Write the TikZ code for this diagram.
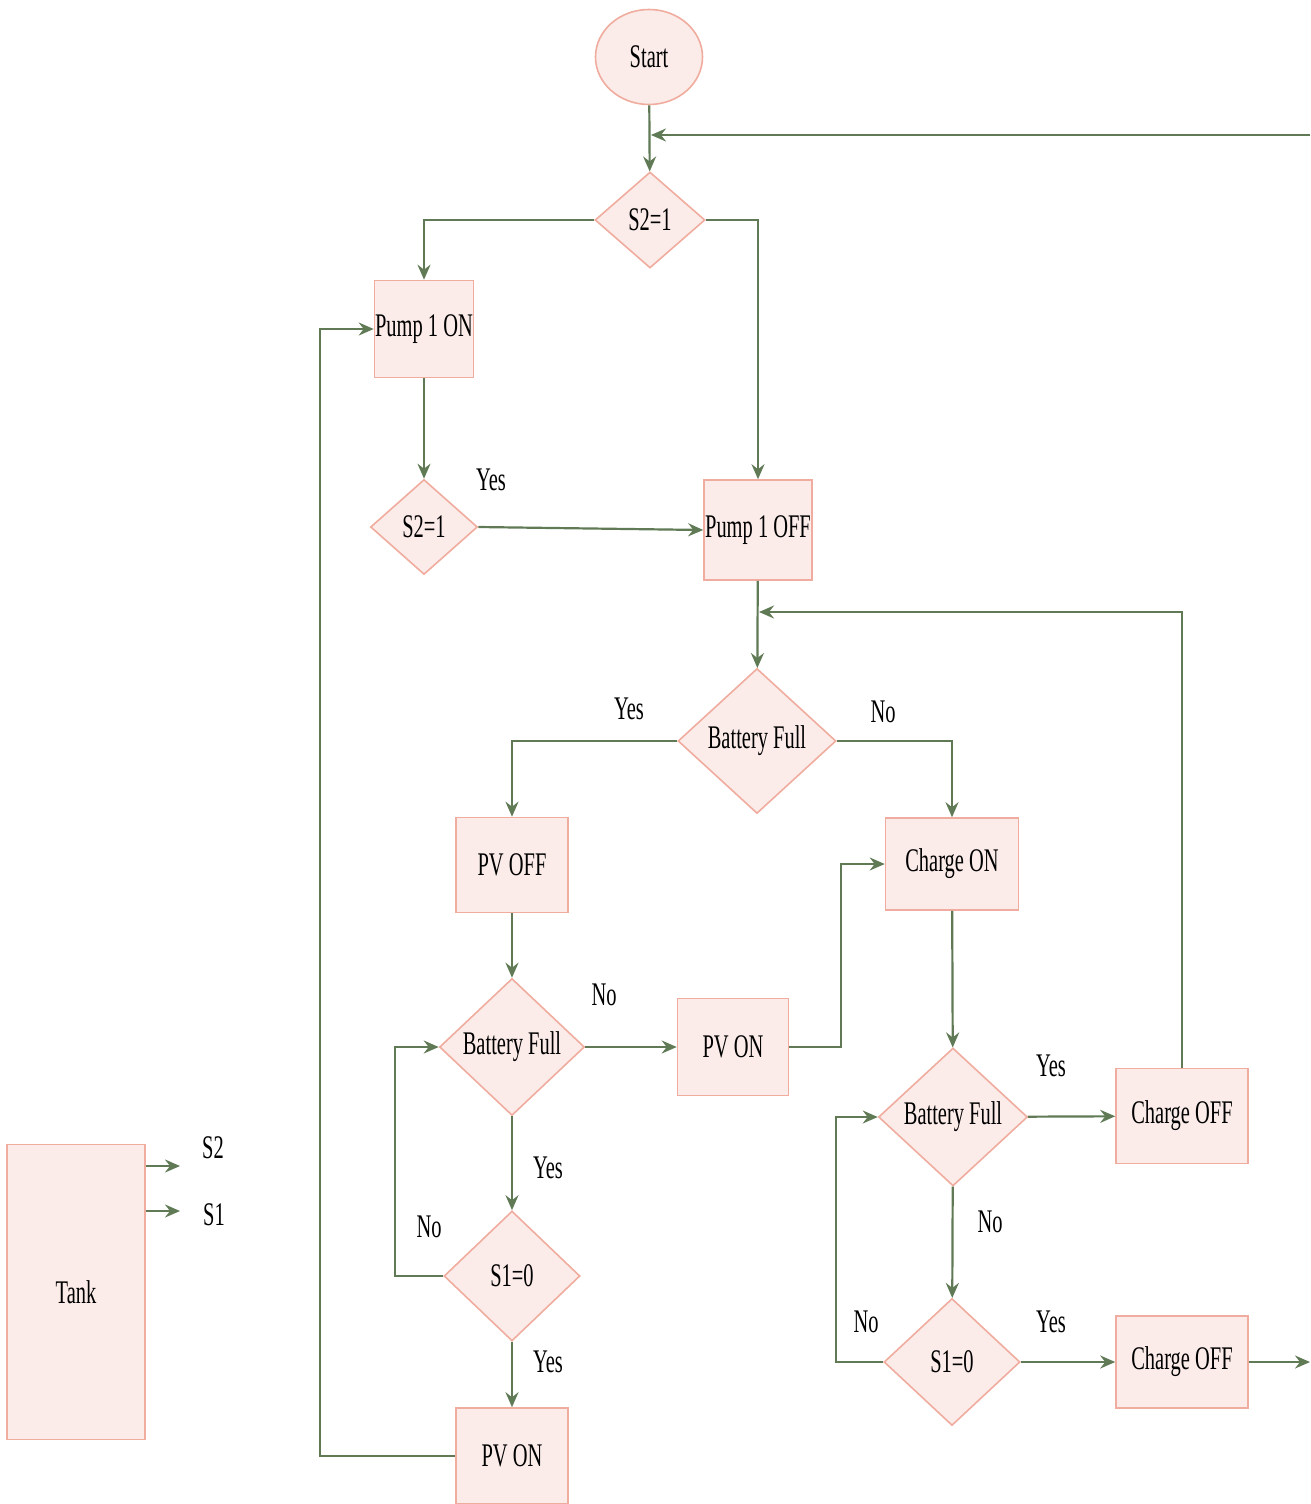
\documentclass[tikz,border=0pt]{standalone}
\usepackage{fontspec}
\newfontfamily\flowfont[FakeStretch=0.62]{Liberation Serif}
\usetikzlibrary{shapes.geometric,arrows.meta}
\definecolor{boxfill}{RGB}{251,236,233}
\definecolor{boxline}{RGB}{240,172,158}
\definecolor{flowline}{RGB}{95,122,85}

\begin{document}
\begin{tikzpicture}[x=1pt,y=-1pt,
    every node/.style={font=\flowfont\fontsize{33}{38}\selectfont, inner sep=0pt},
    procbox/.style={rectangle, draw=boxline, fill=boxfill, line width=1.6pt},
    decision/.style={diamond, draw=boxline, fill=boxfill, line width=1.6pt},
    terminal/.style={ellipse, draw=boxline, fill=boxfill, line width=1.6pt},
    flow/.style={draw=flowline, line width=2.2pt, -{Stealth[length=15pt,width=13pt,inset=5pt]}}]
    \useasboundingbox (0,0) rectangle (1310,1504);

    % nodes
    \node[terminal, minimum width=107pt, minimum height=95pt] (start) at (649,57) {Start};
    \node[decision, minimum width=110pt, minimum height=96pt] (s2top) at (650,220) {S2=1};
    \node[procbox, minimum width=99pt, minimum height=97pt] (pumpon) at (424,329) {Pump 1 ON};
    \node[decision, minimum width=107pt, minimum height=95pt] (s2low) at (424,527) {S2=1};
    \node[procbox, minimum width=108pt, minimum height=100pt] (pumpoff) at (758,530) {Pump 1 OFF};
    \node[decision, minimum width=158pt, minimum height=145pt] (fullA) at (757,741) {Battery Full};
    \node[procbox, minimum width=112pt, minimum height=95pt] (pvoff) at (512,865) {PV OFF};
    \node[procbox, minimum width=133pt, minimum height=92pt] (chargeon) at (952,864) {Charge ON};
    \node[decision, minimum width=145pt, minimum height=137pt] (fullB) at (512,1047) {Battery Full};
    \node[procbox, minimum width=111pt, minimum height=97pt] (pvonA) at (733,1047) {PV ON};
    \node[decision, minimum width=149pt, minimum height=138pt] (fullC) at (953,1117) {Battery Full};
    \node[procbox, minimum width=132pt, minimum height=95pt] (chargeoffA) at (1182,1116) {Charge OFF};
    \node[decision, minimum width=136pt, minimum height=130pt] (s1left) at (512,1276) {S1=0};
    \node[decision, minimum width=136pt, minimum height=127pt] (s1right) at (952,1362) {S1=0};
    \node[procbox, minimum width=132pt, minimum height=92pt] (chargeoffB) at (1182,1362) {Charge OFF};
    \node[procbox, minimum width=112pt, minimum height=96pt] (pvonB) at (512,1456) {PV ON};
    \node[procbox, minimum width=138pt, minimum height=295pt] (tank) at (76,1292) {Tank};

    % labels
    \node (yesA) at (491,480) {Yes};
    \node (yesB) at (629,709) {Yes};
    \node (noA) at (883,712) {No};
    \node (noB) at (604,995) {No};
    \node (yesC) at (548,1168) {Yes};
    \node (noC) at (429,1227) {No};
    \node (yesD) at (548,1362) {Yes};
    \node (yesE) at (1051,1066) {Yes};
    \node (noD) at (990,1222) {No};
    \node (yesF) at (1051,1322) {Yes};
    \node (noE) at (866,1322) {No};
    \node (s2lbl) at (213,1148) {S2};
    \node (s1lbl) at (214,1215) {S1};

    % free ends
    \coordinate (loopin) at (1310,135);
    \coordinate (loopjoin) at (651,135);
    \coordinate (fulljoin) at (759,612);
    \coordinate (exitpt) at (1310,1362);
    \coordinate (s2out) at (180,1166);
    \coordinate (s1out) at (180,1211);

    % connectors
    \draw[flow] (start) -- (s2top);
    \draw[flow] (loopin) -- (loopjoin);
    \draw[flow] (s2top.west) -| (pumpon.north);
    \draw[flow] (s2top.east) -| (pumpoff.north);
    \draw[flow] (pumpon) -- (s2low);
    \draw[flow] (s2low.east) -- (pumpoff.west);
    \draw[flow] (pumpoff) -- (fullA);
    \draw[flow] (chargeoffA.north) |- (fulljoin);
    \draw[flow] (fullA.west) -| (pvoff.north);
    \draw[flow] (fullA.east) -| (chargeon.north);
    \draw[flow] (pvoff) -- (fullB);
    \draw[flow] (fullB) -- (pvonA);
    \draw[flow] (pvonA.east) -- ++(52,0) |- (chargeon.west);
    \draw[flow] (chargeon) -- (fullC);
    \draw[flow] (fullC) -- (chargeoffA);
    \draw[flow] (fullC) -- (s1right);
    \draw[flow] (s1right) -- (chargeoffB);
    \draw[flow] (chargeoffB) -- (exitpt);
    \draw[flow] (s1right.west) -- ++(-47,0) |- (fullC.west);
    \draw[flow] (fullB) -- (s1left);
    \draw[flow] (s1left.west) -- ++(-48,0) |- (fullB.west);
    \draw[flow] (s1left) -- (pvonB);
    \draw[flow] (pvonB.west) -- ++(-135,0) |- (pumpon.west);
    \draw[flow] (tank.east |- s2out) -- (s2out);
    \draw[flow] (tank.east |- s1out) -- (s1out);
\end{tikzpicture}
\end{document}
